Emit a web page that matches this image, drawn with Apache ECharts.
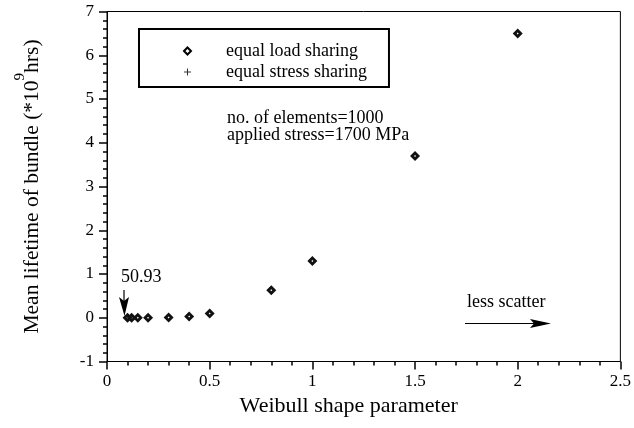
<!DOCTYPE html>
<html>
<head>
<meta charset="utf-8">
<script src="https://cdn.jsdelivr.net/npm/echarts@6/dist/echarts.min.js"></script>
<style>
  html, body { margin: 0; padding: 0; background: #fff; }
  #chart { width: 634px; height: 428px; }
</style>
</head>
<body>
<div id="chart"></div>
<script>
// Weibull shape parameter values
const shapeParams = [0.1, 0.12, 0.15, 0.2, 0.3, 0.4, 0.5, 0.8, 1.0, 1.5, 2.0];
// Mean lifetime (x 10^9 hrs), equal load sharing; first value is 50.93 hrs
const loadSharingLife = [50.93e-9, 0.0, 0.0, 0.0, 0.005, 0.03, 0.1, 0.63, 1.3, 3.7, 6.5];
// Equal stress sharing (no points plotted)
const stressSharingLife = [];

const xTicks = { min: 0, max: 2.5, step: 0.5 };
const yTicks = { min: -1, max: 7, step: 1 };

const SERIF = "'Liberation Serif', 'Times New Roman', serif";
const plusIcon = 'path://M3.4,0h1.2v8h-1.2z M0,3.4h8v1.2h-8z';
// heavy diamond with a small open centre
const heavyDiamond = 'path://M5,0L10,5L5,10L0,5Z M5,4L4,5L5,6L6,5Z';

const chart = echarts.init(document.getElementById('chart'));

chart.setOption({
  animation: false,
  backgroundColor: '#fff',
  grid: {
    left: 107, top: 11.5, right: 13.5, bottom: 66.5,
    show: true, borderColor: '#000', borderWidth: 1
  },
  xAxis: {
    type: 'value',
    min: xTicks.min, max: xTicks.max, interval: xTicks.step,
    name: 'Weibull shape parameter',
    nameLocation: 'middle', nameGap: 32,
    nameTextStyle: { fontFamily: SERIF, fontSize: 22, color: '#000', padding: [0, 30, 0, 0] },
    axisLine: { onZero: false, lineStyle: { color: '#000', width: 1 } },
    axisTick: { show: true, inside: false, length: 8, lineStyle: { color: '#000', width: 1.5 } },
    minorTick: { show: true, splitNumber: 5, length: 4, lineStyle: { color: '#000', width: 1.5 } },
    splitLine: { show: false },
    axisLabel: {
      margin: 12, fontFamily: SERIF, fontSize: 17, color: '#000',
      formatter: v => String(v)
    }
  },
  yAxis: {
    type: 'value',
    min: yTicks.min, max: yTicks.max, interval: yTicks.step,
    name: '{a|Mean lifetime of bundle (*10}{b|9}{a|hrs)}',
    nameLocation: 'middle', nameGap: 64,
    nameTextStyle: {
      color: '#000',
      rich: {
        a: { fontFamily: SERIF, fontSize: 21.5, color: '#000', lineHeight: 30, verticalAlign: 'bottom' },
        b: { fontFamily: SERIF, fontSize: 15, color: '#000', lineHeight: 30, verticalAlign: 'top' }
      }
    },
    axisLine: { onZero: false, lineStyle: { color: '#000', width: 1 } },
    axisTick: { show: true, inside: false, length: 8, lineStyle: { color: '#000', width: 1.5 } },
    minorTick: { show: true, splitNumber: 5, length: 4, lineStyle: { color: '#000', width: 1.5 } },
    splitLine: { show: false },
    axisLabel: { margin: 13, fontFamily: SERIF, fontSize: 17, color: '#000' }
  },
  legend: {
    orient: 'vertical',
    left: 139, top: 29,
    padding: [13, 22, 6, 44],
    itemGap: 3,
    itemWidth: 7, itemHeight: 7,
    borderColor: '#000', borderWidth: 2,
    textStyle: { fontFamily: SERIF, fontSize: 18, color: '#000', padding: [0, 0, 0, 30] },
    data: [
      { name: 'equal load sharing', icon: 'emptyDiamond',
        itemStyle: { color: '#000', borderColor: '#000', borderWidth: 1.3 } },
      { name: 'equal stress sharing', icon: plusIcon,
        itemStyle: { color: '#000', borderWidth: 0 } }
    ]
  },
  series: [
    {
      name: 'equal load sharing',
      type: 'scatter',
      symbol: heavyDiamond,
      symbolSize: 10,
      itemStyle: { color: '#111', opacity: 1 },
      data: shapeParams.map((x, i) => [x, loadSharingLife[i]])
    },
    {
      name: 'equal stress sharing',
      type: 'scatter',
      symbol: plusIcon,
      symbolSize: 8,
      itemStyle: { color: '#000' },
      data: stressSharingLife
    }
  ],
  graphic: [
    {
      type: 'text', left: 227, top: 109,
      style: { text: 'no. of elements=1000', font: '18px ' + SERIF, fill: '#000' }
    },
    {
      type: 'text', left: 227, top: 126,
      style: { text: 'applied stress=1700 MPa', font: '18px ' + SERIF, fill: '#000' }
    },
    {
      type: 'text', left: 121, top: 268,
      style: { text: '50.93', font: '18px ' + SERIF, fill: '#000' }
    },
    {
      type: 'line', shape: { x1: 124, y1: 290, x2: 124, y2: 302 },
      style: { stroke: '#000', lineWidth: 1.2 }
    },
    {
      type: 'polygon',
      shape: { points: [[119, 297], [124, 301], [129, 297], [124.5, 316]] },
      style: { fill: '#000' }
    },
    {
      type: 'text', left: 467, top: 293,
      style: { text: 'less scatter', font: '18px ' + SERIF, fill: '#000' }
    },
    {
      type: 'line', shape: { x1: 465, y1: 323.5, x2: 535, y2: 323.5 },
      style: { stroke: '#000', lineWidth: 1.2 }
    },
    {
      type: 'polygon',
      shape: { points: [[530, 319], [551, 323.5], [530, 328], [534, 323.5]] },
      style: { fill: '#000' }
    }
  ]
});
</script>
</body>
</html>
